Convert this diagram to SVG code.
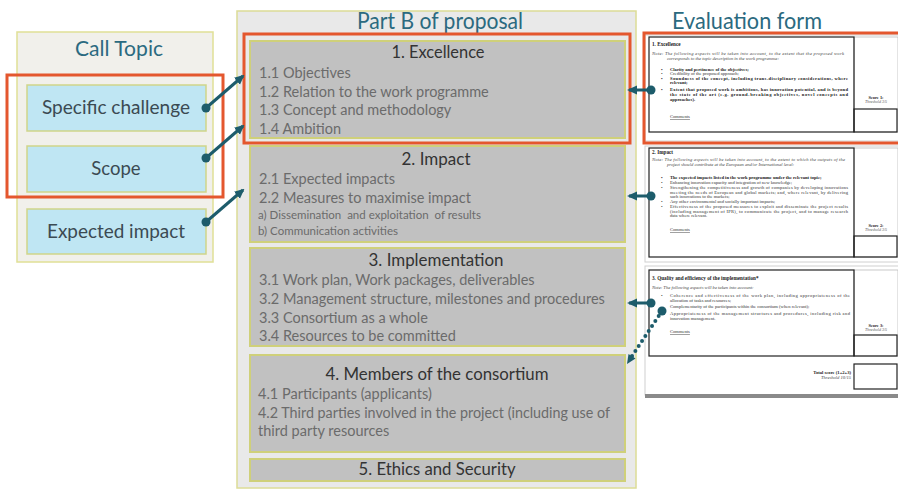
<svg xmlns="http://www.w3.org/2000/svg" width="898" height="489" viewBox="0 0 898 489">
<style>
.panel{fill:#f1f0eb;stroke:#e0e096;stroke-width:1.5}
.panelB{fill:#e9e9e9;stroke:#dcdc96;stroke-width:1.5}
.blue{fill:#bfe6f3;stroke:#cfd58a;stroke-width:1.5}
.gbox{fill:#c1c1c1;stroke:#cfd07a;stroke-width:2}
.hl{fill:none;stroke:#e4572e;stroke-width:3}
.ttl{font-family:Lato,"Liberation Sans",sans-serif;fill:#2b6a80;text-anchor:middle}
.lbl{font-family:Lato,"Liberation Sans",sans-serif;fill:#3b4a52;font-size:18.5px;text-anchor:middle}
.bt{font-family:Lato,"Liberation Sans",sans-serif;fill:#333;font-size:17.5px;text-anchor:middle}
.it{font-family:Lato,"Liberation Sans",sans-serif;fill:#6b6b6b;font-size:14.5px}
.sm{font-family:Lato,"Liberation Sans",sans-serif;fill:#6b6b6b;font-size:11.5px;white-space:pre}
.page{fill:#fff;stroke:#d0d0d0;stroke-width:1}
.frm{fill:none;stroke:#222;stroke-width:1.2}
.col{fill:none;stroke:#bbb;stroke-width:0.8}
.ft{font-family:"Liberation Serif",serif;font-size:4.6px;fill:#333}
.fb{font-family:"Liberation Serif",serif;font-size:4.6px;fill:#222;font-weight:bold}
.fh{font-family:"Liberation Serif",serif;font-size:5.2px;fill:#222;font-weight:bold}
.fi{font-family:"Liberation Serif",serif;font-size:4.6px;fill:#444;font-style:italic}
.fs{font-family:"Liberation Serif",serif;font-size:4.4px;fill:#222;font-weight:bold;text-anchor:middle}
.fsi{font-family:"Liberation Serif",serif;font-size:4px;fill:#555;font-style:italic;text-anchor:middle}
.fc{font-family:"Liberation Serif",serif;font-size:4.6px;fill:#333;text-decoration:underline}
.con{fill:none;stroke:#1d5c6b;stroke-width:3}
.dot{fill:none;stroke:#1d5c6b;stroke-width:4;stroke-linecap:round;stroke-dasharray:0 6}
</style>
<defs>
<marker id="arr" viewBox="0 0 10 10" refX="8" refY="5" markerWidth="10" markerHeight="10" markerUnits="userSpaceOnUse" orient="auto"><path d="M0,0.5 L10,5 L0,9.5 Z" fill="#1d5c6b"/></marker>
<marker id="dt" viewBox="0 0 10 10" refX="5" refY="5" markerWidth="10" markerHeight="10" markerUnits="userSpaceOnUse"><circle cx="5" cy="5" r="4.5" fill="#1d5c6b"/></marker>
</defs>
<rect width="898" height="489" fill="#fff"/>

<g id="call-topic">
<rect class="panel" x="17" y="32" width="196" height="230"/>
<text class="ttl" x="119" y="56" font-size="21.5" fill="#3a5f6c" textLength="88" lengthAdjust="spacingAndGlyphs">Call Topic</text>
</g>
<g id="specific-challenge">
<rect class="blue" x="27" y="85" width="179" height="46"/>
<text class="lbl" x="116" y="114" textLength="148" lengthAdjust="spacingAndGlyphs">Specific challenge</text>
</g>
<g id="scope">
<rect class="blue" x="27" y="146" width="179" height="46"/>
<text class="lbl" x="116" y="175">Scope</text>
</g>
<g id="expected-impact">
<rect class="blue" x="27" y="209" width="179" height="45"/>
<text class="lbl" x="116" y="238" textLength="138" lengthAdjust="spacingAndGlyphs">Expected impact</text>
</g>
<g id="call-highlight"><rect class="hl" x="7" y="75" width="216" height="122"/></g>

<g id="part-b">
<rect class="panelB" x="237" y="11" width="399" height="477"/>
<text class="ttl" x="440" y="29" font-size="24" textLength="166" lengthAdjust="spacingAndGlyphs">Part B of proposal</text>
</g>
<g id="excellence">
<rect class="gbox" x="250" y="41" width="375" height="97"/>
<text class="bt" x="438" y="58" textLength="93" lengthAdjust="spacingAndGlyphs">1. Excellence</text>
<text class="it" x="259" y="78">1.1 Objectives</text>
<text class="it" x="259" y="97">1.2 Relation to the work programme</text>
<text class="it" x="259" y="115">1.3 Concept and methodology</text>
<text class="it" x="259" y="134">1.4 Ambition</text>
</g>
<g id="impact">
<rect class="gbox" x="250" y="146" width="375" height="96"/>
<text class="bt" x="436" y="165" textLength="69" lengthAdjust="spacingAndGlyphs">2. Impact</text>
<text class="it" x="259" y="184">2.1 Expected impacts</text>
<text class="it" x="259" y="203">2.2 Measures to maximise impact</text>
<text class="sm" x="258" y="219">a) Dissemination  and exploitation  of results</text>
<text class="sm" x="258" y="235">b) Communication activities</text>
</g>
<g id="implementation">
<rect class="gbox" x="250" y="248" width="375" height="98"/>
<text class="bt" x="436" y="266" textLength="135" lengthAdjust="spacingAndGlyphs">3. Implementation</text>
<text class="it" x="259" y="285">3.1 Work plan, Work packages, deliverables</text>
<text class="it" x="259" y="304">3.2 Management structure, milestones and procedures</text>
<text class="it" x="259" y="323">3.3 Consortium as a whole</text>
<text class="it" x="259" y="341">3.4 Resources to be committed</text>
</g>
<g id="members">
<rect class="gbox" x="250" y="355" width="375" height="97"/>
<text class="bt" x="437" y="380" textLength="223" lengthAdjust="spacingAndGlyphs">4. Members of the consortium</text>
<text class="it" x="258" y="399">4.1 Participants (applicants)</text>
<text class="it" x="258" y="418" textLength="352" lengthAdjust="spacingAndGlyphs">4.2 Third parties involved in the project (including use of</text>
<text class="it" x="258" y="436">third party resources</text>
</g>
<g id="ethics">
<rect class="gbox" x="250" y="459" width="375" height="22"/>
<text class="bt" x="437" y="475" textLength="157" lengthAdjust="spacingAndGlyphs">5. Ethics and Security</text>
</g>
<g id="partb-highlight"><rect class="hl" x="244" y="34" width="386" height="109"/></g>

<g id="evaluation-form">
<text class="ttl" x="747" y="29" font-size="24" fill="#2a5f73" textLength="150" lengthAdjust="spacingAndGlyphs">Evaluation form</text>
</g>
<g id="form-excellence">
<rect class="page" x="645" y="35" width="256" height="106"/>
<rect class="col" x="854" y="37" width="44" height="95"/>
<rect class="frm" x="649" y="37" width="205" height="95"/>
<rect class="frm" x="854" y="109" width="43" height="23"/>
<text class="fh" x="652" y="46">1. Excellence</text>
<text class="fi" x="652" y="55" textLength="192" lengthAdjust="spacing">Note: The following aspects will be taken into account, to the extent that the proposed work</text>
<text class="fi" x="667" y="60">corresponds to the topic description in the work programme:</text>
<text class="fb" x="661" y="71">•</text><text class="fb" x="670" y="71">Clarity and pertinence of the objectives;</text>
<text class="ft" x="661" y="75">•</text><text class="ft" x="670" y="75">Credibility of the proposed approach;</text>
<text class="fb" x="661" y="80">•</text><text class="fb" x="670" y="80" textLength="178" lengthAdjust="spacing">Soundness of the concept, including trans-disciplinary considerations, where</text>
<text class="fb" x="670" y="84">relevant;</text>
<text class="fb" x="661" y="91">•</text><text class="fb" x="670" y="91" textLength="178" lengthAdjust="spacing">Extent that proposed work is ambitious, has innovation potential, and is beyond</text>
<text class="fb" x="670" y="96" textLength="178" lengthAdjust="spacing">the state of the art (e.g. ground-breaking objectives, novel concepts and</text>
<text class="fb" x="670" y="101">approaches).</text>
<text class="fc" x="670" y="118">Comments</text>
<text class="fs" x="876" y="99">Score 1:</text>
<text class="fsi" x="876" y="103">Threshold 3/5</text>
</g>
<g id="form-impact">
<rect class="page" x="645" y="146" width="256" height="116"/>
<rect class="col" x="854" y="148" width="44" height="109"/>
<rect class="frm" x="649" y="148" width="205" height="109"/>
<rect class="frm" x="854" y="236" width="43" height="21"/>
<text class="fh" x="652" y="154">2. Impact</text>
<text class="fi" x="652" y="161" textLength="193" lengthAdjust="spacing">Note: The following aspects will be taken into account, to the extent to which the outputs of the</text>
<text class="fi" x="667" y="166">project should contribute at the European and/or International level:</text>
<text class="fb" x="661" y="179">•</text><text class="fb" x="670" y="179">The expected impacts listed in the work programme under the relevant topic;</text>
<text class="ft" x="661" y="184">•</text><text class="ft" x="670" y="184">Enhancing innovation capacity and integration of new knowledge;</text>
<text class="ft" x="661" y="189">•</text><text class="ft" x="670" y="189" textLength="178" lengthAdjust="spacing">Strengthening the competitiveness and growth of companies by developing innovations</text>
<text class="ft" x="670" y="194" textLength="178" lengthAdjust="spacing">meeting the needs of European and global markets; and, where relevant, by delivering</text>
<text class="ft" x="670" y="198">such innovations to the markets;</text>
<text class="ft" x="661" y="203">•</text><text class="ft" x="670" y="203">Any other environmental and socially important impacts;</text>
<text class="ft" x="661" y="208">•</text><text class="ft" x="670" y="208" textLength="178" lengthAdjust="spacing">Effectiveness of the proposed measures to exploit and disseminate the project results</text>
<text class="ft" x="670" y="213" textLength="178" lengthAdjust="spacing">(including management of IPR), to communicate the project, and to manage research</text>
<text class="ft" x="670" y="217">data where relevant.</text>
<text class="fc" x="670" y="231">Comments</text>
<text class="fs" x="876" y="227">Score 2:</text>
<text class="fsi" x="876" y="231">Threshold 3/5</text>
</g>
<g id="form-implementation">
<rect class="page" x="645" y="266" width="256" height="129"/>
<rect x="645" y="394" width="256" height="4" fill="#8a8a8a"/>
<rect class="col" x="854" y="270" width="44" height="86"/>
<rect class="frm" x="649" y="270" width="205" height="86"/>
<rect class="frm" x="854" y="335" width="43" height="21"/>
<text class="fh" x="652" y="280">3. Quality and efficiency of the implementation*</text>
<text class="fi" x="652" y="289">Note: The following aspects will be taken into account:</text>
<text class="ft" x="661" y="297">•</text><text class="ft" x="670" y="297" textLength="180" lengthAdjust="spacing">Coherence and effectiveness of the work plan, including appropriateness of the</text>
<text class="ft" x="670" y="302">allocation of tasks and resources;</text>
<text class="ft" x="670" y="308">Complementarity of the participants within the consortium (when relevant);</text>
<text class="ft" x="670" y="315" textLength="180" lengthAdjust="spacing">Appropriateness of the management structures and procedures, including risk and</text>
<text class="ft" x="670" y="320">innovation management.</text>
<text class="fc" x="670" y="333">Comments</text>
<text class="fs" x="876" y="327">Score 3:</text>
<text class="fsi" x="876" y="331">Threshold 3/5</text>
<rect class="frm" x="854" y="364" width="43" height="25"/>
<text class="fb" x="851" y="374" text-anchor="end">Total score (1+2+3)</text>
<text class="fi" x="851" y="379" text-anchor="end" font-size="4">Threshold 10/15</text>
</g>
<g id="form-highlight"><rect class="hl" x="644" y="33" width="258" height="110"/></g>

<g id="connectors">
<line class="con" x1="206" y1="108" x2="243" y2="76" marker-start="url(#dt)" marker-end="url(#arr)"/>
<line class="con" x1="206" y1="158" x2="243" y2="126" marker-start="url(#dt)" marker-end="url(#arr)"/>
<line class="con" x1="206" y1="222" x2="243" y2="190" marker-start="url(#dt)" marker-end="url(#arr)"/>
<line class="con" x1="651" y1="90" x2="629" y2="90" marker-start="url(#dt)" marker-end="url(#arr)"/>
<line class="con" x1="651" y1="196" x2="629" y2="196" marker-start="url(#dt)" marker-end="url(#arr)"/>
<line class="con" x1="651" y1="303" x2="629" y2="303" marker-start="url(#dt)" marker-end="url(#arr)"/>
<line class="dot" x1="662" y1="311" x2="630" y2="359"/>
<line class="con" x1="662" y1="311" x2="662" y2="311" marker-start="url(#dt)"/>
<path d="M627,364 L628.5,354 L635.5,358.5 Z" fill="#1d5c6b"/>
</g>
</svg>
